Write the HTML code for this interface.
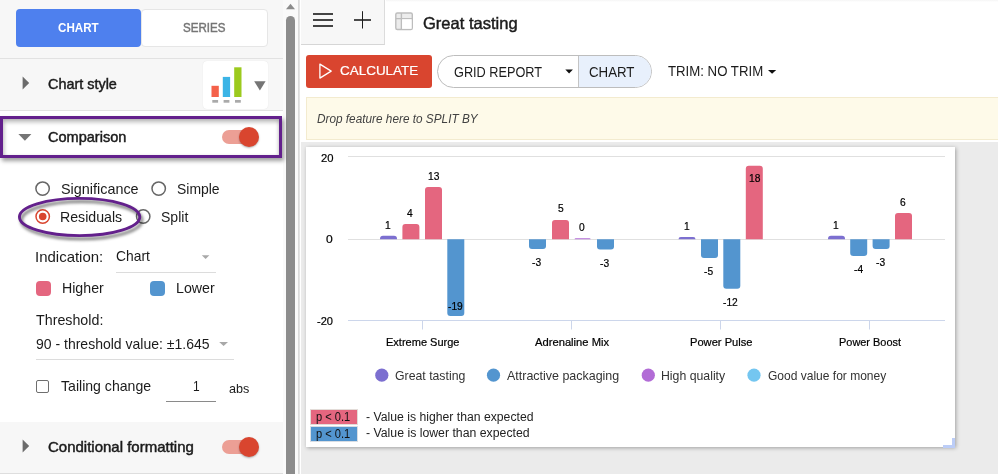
<!DOCTYPE html>
<html lang="en"><head><meta charset="utf-8"><title>Great tasting</title>
<style>
html,body{margin:0;padding:0;}
body{width:998px;height:474px;overflow:hidden;position:relative;background:#ffffff;font-family:"Liberation Sans",Arial,sans-serif;}
.a{position:absolute;box-sizing:border-box;}
.t{position:absolute;transform-origin:0 0;white-space:pre;line-height:20px;height:20px;font-family:"Liberation Sans",Arial,sans-serif;}
svg{position:absolute;left:0;top:0;overflow:visible;}

</style></head>
<body>
<!-- ===== left panel ===== -->
<div class="a" style="left:0;top:0;width:283px;height:474px;background:#ffffff;"></div>
<div class="a" style="left:0;top:0;width:283px;height:110px;background:#f7f7f7;"></div>
<div class="a" style="left:0;top:58px;width:283px;height:1px;background:#e2e2e2;"></div>
<div class="a" style="left:0;top:110px;width:283px;height:1px;background:#e2e2e2;"></div>
<div class="a" style="left:0;top:422px;width:283px;height:52px;background:#f7f7f7;"></div>
<div class="a" style="left:0;top:473px;width:283px;height:1px;background:#dedede;"></div>
<!-- tab buttons -->
<div class="a" style="left:141px;top:9px;width:127px;height:38px;background:#fff;border:1px solid #e6e6e6;border-radius:4px;"></div>
<div class="a" style="left:16px;top:9px;width:125px;height:38px;background:#4e80ee;border-radius:4px;"></div>
<!-- chart style widget -->
<div class="a" style="left:203px;top:61px;width:65px;height:48px;background:#fff;border-radius:4px;box-shadow:0 0 1px rgba(0,0,0,.12);"></div>
<!-- scrollbar -->
<div class="a" style="left:283px;top:0;width:15px;height:474px;background:#fafafa;"></div>
<div class="a" style="left:286px;top:16px;width:9px;height:480px;background:#8c8c8c;border-radius:4.5px;"></div>
<div class="a" style="left:298px;top:0;width:2px;height:474px;background:linear-gradient(90deg,#d6d6d6,#e8e8e8);"></div>
<!-- ===== main ===== -->
<div class="a" style="left:386px;top:0;width:612px;height:2px;background:linear-gradient(#f5f5f5,#ffffff);"></div>
<div class="a" style="left:301px;top:0;width:84px;height:45px;background:#f7f7f7;border-right:1px solid #dcdcdc;border-bottom:1px solid #d6d6d6;"></div>
<div class="a" style="left:306px;top:55px;width:126px;height:33px;background:#d9452f;border-radius:3px;"></div>
<div class="a" style="left:437px;top:55px;width:215px;height:33px;background:#fff;border:1px solid #bdbdbd;border-radius:16.5px;overflow:hidden;">
  <div class="a" style="left:140px;top:0;width:80px;height:33px;background:#e8f0fc;border-left:1px solid #c4c4c4;"></div>
</div>
<div class="a" style="left:306px;top:97px;width:700px;height:43px;background:#fefae9;border:1px solid #f3ebcf;"></div>
<!-- gray workspace -->
<div class="a" style="left:301px;top:142px;width:697px;height:332px;background:#ebebeb;"></div>
<div class="a" style="left:306px;top:147px;width:649px;height:300px;background:#fff;box-shadow:1px 1px 4px rgba(0,0,0,.32);"></div>
<!-- footer p boxes -->
<div class="a" style="left:310px;top:409px;width:48px;height:16px;background:#e4667f;border:1px solid #e3dcd8;"></div>
<div class="a" style="left:310px;top:426px;width:48px;height:15.5px;background:#5395cf;border:1px solid #d8dde3;"></div>
<!-- resize handle -->
<div class="a" style="left:943px;top:445px;width:12px;height:2.5px;background:#bccdf7;"></div>
<div class="a" style="left:952px;top:438px;width:3px;height:9.5px;background:#bccdf7;"></div>
<!-- colour squares -->
<div class="a" style="left:36px;top:281px;width:15px;height:15px;background:#e4667f;border-radius:4px;"></div>
<div class="a" style="left:150px;top:281px;width:15px;height:15px;background:#5395cf;border-radius:4px;"></div>
<!-- select underlines -->
<div class="a" style="left:116px;top:272px;width:100px;height:1px;background:#dcdcdc;"></div>
<div class="a" style="left:36px;top:359px;width:198px;height:1px;background:#dcdcdc;"></div>
<div class="a" style="left:166px;top:400.5px;width:50px;height:1px;background:#8a8a8a;"></div>
<!-- checkbox -->
<div class="a" style="left:36.3px;top:380.4px;width:13px;height:13px;border:1.5px solid #6e6e6e;border-radius:2px;background:#fff;"></div>
<!-- toggles -->
<div class="a" style="left:222px;top:130px;width:34px;height:14px;border-radius:7px;background:#ec9f95;"></div>
<div class="a" style="left:239px;top:127px;width:20px;height:20px;border-radius:10px;background:#d9452f;box-shadow:0 1px 2px rgba(0,0,0,.3);"></div>
<div class="a" style="left:222px;top:440px;width:34px;height:14px;border-radius:7px;background:#ec9f95;"></div>
<div class="a" style="left:239px;top:437px;width:20px;height:20px;border-radius:10px;background:#d9452f;box-shadow:0 1px 2px rgba(0,0,0,.3);"></div>
<!-- purple highlight rect -->
<div class="a" style="left:0;top:116px;width:282px;height:41.5px;border:3px solid #63208c;box-shadow:2px 3px 4px rgba(0,0,0,.38), inset 1px 3px 4px rgba(0,0,0,.28), inset -2px 0 3px rgba(0,0,0,.07);"></div>
<svg width="998" height="474" viewBox="0 0 998 474">
<path d="M348,156.5H945" stroke="#e0e0e0" stroke-width="1" fill="none"/>
<path d="M348,239.5H945" stroke="#e0e0e0" stroke-width="1" fill="none"/>
<path d="M348,320.5H945" stroke="#ccd6eb" stroke-width="1" fill="none"/>
<path d="M422.5,320.5V329.5" stroke="#ccd6eb" stroke-width="1" fill="none"/>
<path d="M571.5,320.5V329.5" stroke="#ccd6eb" stroke-width="1" fill="none"/>
<path d="M720.5,320.5V329.5" stroke="#ccd6eb" stroke-width="1" fill="none"/>
<path d="M869.5,320.5V329.5" stroke="#ccd6eb" stroke-width="1" fill="none"/>
<path d="M380.0,239.3V238.8Q380.0,235.8 383.0,235.8H394.0Q397.0,235.8 397.0,238.8V239.3Z" fill="#7c6fd0"/>
<path d="M402.4,239.3V227.0Q402.4,224.0 405.4,224.0H416.4Q419.4,224.0 419.4,227.0V239.3Z" fill="#e4667f"/>
<path d="M425.0,239.3V190.1Q425.0,187.1 428.0,187.1H439.0Q442.0,187.1 442.0,190.1V239.3Z" fill="#e4667f"/>
<path d="M447.3,239.3V313.0Q447.3,316.0 450.3,316.0H461.3Q464.3,316.0 464.3,313.0V239.3Z" fill="#5395cf"/>
<path d="M529.0,239.3V245.9Q529.0,248.9 532.0,248.9H543.0Q546.0,248.9 546.0,245.9V239.3Z" fill="#5395cf"/>
<path d="M552.0,239.3V222.9Q552.0,219.9 555.0,219.9H566.0Q569.0,219.9 569.0,222.9V239.3Z" fill="#e4667f"/>
<path d="M574.6,239.3V239.3Q574.6,238.2 575.7,238.2H589.5Q590.6,238.2 590.6,239.3V239.3Z" fill="#b26cd6"/>
<path d="M597.0,239.3V246.6Q597.0,249.6 600.0,249.6H611.0Q614.0,249.6 614.0,246.6V239.3Z" fill="#5395cf"/>
<path d="M678.5,239.3V239.3Q678.5,237.0 680.8,237.0H693.2Q695.5,237.0 695.5,239.3V239.3Z" fill="#7c6fd0"/>
<path d="M701.0,239.3V254.89999999999998Q701.0,257.9 704.0,257.9H715.0Q718.0,257.9 718.0,254.89999999999998V239.3Z" fill="#5395cf"/>
<path d="M723.3,239.3V285.7Q723.3,288.7 726.3,288.7H737.3Q740.3,288.7 740.3,285.7V239.3Z" fill="#5395cf"/>
<path d="M745.8,239.3V168.8Q745.8,165.8 748.8,165.8H759.8Q762.8,165.8 762.8,168.8V239.3Z" fill="#e4667f"/>
<path d="M828.0,239.3V238.7Q828.0,235.7 831.0,235.7H842.0Q845.0,235.7 845.0,238.7V239.3Z" fill="#7c6fd0"/>
<path d="M850.2,239.3V252.9Q850.2,255.9 853.2,255.9H864.2Q867.2,255.9 867.2,252.9V239.3Z" fill="#5395cf"/>
<path d="M872.6,239.3V245.9Q872.6,248.9 875.6,248.9H886.6Q889.6,248.9 889.6,245.9V239.3Z" fill="#5395cf"/>
<path d="M895.0,239.3V215.9Q895.0,212.9 898.0,212.9H909.0Q912.0,212.9 912.0,215.9V239.3Z" fill="#e4667f"/>
<circle cx="381.8" cy="375.2" r="6.6" fill="#7c6fd0"/>
<circle cx="493.5" cy="375.2" r="6.6" fill="#5395cf"/>
<circle cx="648.3" cy="375.2" r="6.6" fill="#b26cd6"/>
<circle cx="754.0" cy="375.2" r="6.6" fill="#74c6f0"/>
<rect x="313" y="13" width="20" height="2" fill="#444"/>
<rect x="313" y="19" width="20" height="2" fill="#444"/>
<rect x="313" y="25" width="20" height="2" fill="#444"/>
<rect x="354" y="19" width="17" height="2" fill="#4a4a4a"/>
<rect x="362" y="11.2" width="1" height="17.3" fill="#1e1e1e"/>
<rect x="395.8" y="13" width="16.5" height="16.5" rx="1.5" fill="#ececec" stroke="#bdbdbd" stroke-width="1.4"/>
<path d="M395.8,18.6H412.3M401.4,13V29.5" stroke="#bdbdbd" stroke-width="1.4" fill="none"/>
<rect x="402.1" y="19.3" width="9.5" height="9.5" fill="#fff"/>
<path d="M319.9,64.1V78.1L331.2,71.1Z" stroke="#fff" stroke-width="1.3" fill="none" stroke-linejoin="round"/>
<path d="M565.3,69.6H572.9L569.1,73.4Z" fill="#111"/>
<path d="M768,70H776.2L772.1,73.8Z" fill="#111"/>
<path d="M201.8,255.2H209.4L205.6,259Z" fill="#a8a8a8"/>
<path d="M219.2,342H228L223.6,346Z" fill="#a8a8a8"/>
<path d="M286,9.2H295L290.5,3.8Z" fill="#8c8c8c"/>
<path d="M22.6,76.6V89.6L29.2,83.1Z" fill="#6b6b6b"/>
<path d="M18.4,134H31.4L24.9,140.7Z" fill="#757575"/>
<path d="M22.6,439.5V452.5L29.2,446Z" fill="#6b6b6b"/>
<rect x="211.5" y="85.8" width="7.3" height="11.2" fill="#f4614a"/>
<rect x="222.8" y="76.9" width="7.3" height="20.1" fill="#3bb4e6"/>
<rect x="234.2" y="67.3" width="7.3" height="29.7" fill="#9cca1e"/>
<rect x="212.3" y="100" width="5.8" height="2.7" fill="#aaaaaa"/>
<rect x="223.6" y="100" width="5.8" height="2.7" fill="#aaaaaa"/>
<rect x="235.0" y="100" width="5.8" height="2.7" fill="#aaaaaa"/>
<path d="M254.2,81.3H265.6L259.9,90.4Z" fill="#757575"/>
<circle cx="42.6" cy="188.6" r="6.7" fill="#fff" stroke="#666" stroke-width="1.5"/>
<circle cx="158.7" cy="188.6" r="6.7" fill="#fff" stroke="#666" stroke-width="1.5"/>
<circle cx="143.2" cy="216.5" r="6.7" fill="#fff" stroke="#666" stroke-width="1.5"/>
<circle cx="42.7" cy="216.5" r="6.7" fill="#fff" stroke="#d9452f" stroke-width="1.5"/>
<circle cx="42.7" cy="216.5" r="3.8" fill="#d9452f"/>
<defs><filter id="sh" x="-20%" y="-30%" width="140%" height="170%"><feGaussianBlur stdDeviation="1.8"/></filter></defs>
<ellipse cx="81.6" cy="220.2" rx="60.2" ry="18.6" fill="none" stroke="rgba(0,0,0,.5)" stroke-width="3" filter="url(#sh)"/>
<ellipse cx="79.6" cy="217" rx="60.15" ry="18.6" fill="none" stroke="#63208c" stroke-width="2.9"/>
</svg>

<span class="t" style="left:58.00px;top:18.00px;font-size:13px;color:#ffffff;transform:scaleX(0.8935);font-weight:700;">CHART</span>
<span class="t" style="left:182.90px;top:18.00px;font-size:13px;color:#757575;transform:scaleX(0.8893);-webkit-text-stroke:0.45px currentColor;">SERIES</span>
<span class="t" style="left:48.30px;top:74.00px;font-size:14.2px;color:#1b1b1b;transform:scaleX(1.0160);-webkit-text-stroke:0.45px currentColor;">Chart style</span>
<span class="t" style="left:48.10px;top:127.00px;font-size:14.2px;color:#1b1b1b;transform:scaleX(1.0239);-webkit-text-stroke:0.45px currentColor;">Comparison</span>
<span class="t" style="left:60.50px;top:179.00px;font-size:14.2px;color:#1b1b1b;transform:scaleX(1.0142);">Significance</span>
<span class="t" style="left:177.30px;top:179.00px;font-size:14.2px;color:#1b1b1b;transform:scaleX(0.9822);">Simple</span>
<span class="t" style="left:59.50px;top:207.00px;font-size:14.2px;color:#1b1b1b;transform:scaleX(0.9983);">Residuals</span>
<span class="t" style="left:161.20px;top:207.00px;font-size:14.2px;color:#1b1b1b;transform:scaleX(0.9907);">Split</span>
<span class="t" style="left:35.04px;top:247.00px;font-size:14.2px;color:#1b1b1b;transform:scaleX(1.0553);">Indication:</span>
<span class="t" style="left:116.30px;top:246.00px;font-size:14.2px;color:#1b1b1b;transform:scaleX(0.9755);">Chart</span>
<span class="t" style="left:61.60px;top:278.00px;font-size:14.2px;color:#1b1b1b;transform:scaleX(0.9983);">Higher</span>
<span class="t" style="left:175.70px;top:278.00px;font-size:14.2px;color:#1b1b1b;transform:scaleX(1.0022);">Lower</span>
<span class="t" style="left:36.30px;top:310.00px;font-size:14.2px;color:#1b1b1b;transform:scaleX(1.0047);">Threshold:</span>
<span class="t" style="left:36.30px;top:334.00px;font-size:14.2px;color:#1b1b1b;transform:scaleX(0.9870);">90 - threshold value: ±1.645</span>
<span class="t" style="left:61.30px;top:376.00px;font-size:14.2px;color:#1b1b1b;transform:scaleX(0.9932);">Tailing change</span>
<span class="t" style="left:193.16px;top:376.00px;font-size:14.2px;color:#1b1b1b;transform:scaleX(0.8429);">1</span>
<span class="t" style="left:229.20px;top:379.00px;font-size:12.6px;color:#1b1b1b;transform:scaleX(0.9996);">abs</span>
<span class="t" style="left:48.10px;top:437.00px;font-size:14.2px;color:#1b1b1b;transform:scaleX(1.0567);-webkit-text-stroke:0.45px currentColor;">Conditional formatting</span>
<span class="t" style="left:423.30px;top:13.00px;font-size:16.5px;color:#1b1b1b;transform:scaleX(1.0012);-webkit-text-stroke:0.45px currentColor;">Great tasting</span>
<span class="t" style="left:340.30px;top:61.00px;font-size:13.3px;color:#ffffff;transform:scaleX(1.0120);-webkit-text-stroke:0.22px currentColor;">CALCULATE</span>
<span class="t" style="left:453.80px;top:62.00px;font-size:14.5px;color:#1b1b1b;transform:scaleX(0.8769);">GRID REPORT</span>
<span class="t" style="left:589.30px;top:62.00px;font-size:14.5px;color:#1b1b1b;transform:scaleX(0.9152);">CHART</span>
<span class="t" style="left:667.60px;top:61.00px;font-size:14.5px;color:#1b1b1b;transform:scaleX(0.9109);">TRIM: NO TRIM</span>
<span class="t" style="left:316.80px;top:109.00px;font-size:12.5px;color:#424242;transform:scaleX(0.9436);font-style:italic;">Drop feature here to SPLIT BY</span>
<span class="t" style="left:320.50px;top:148.00px;font-size:11.5px;color:#000000;transform:scaleX(0.9761);-webkit-text-stroke:0.22px currentColor;">20</span>
<span class="t" style="left:326.30px;top:229.00px;font-size:11.5px;color:#000000;transform:scaleX(1.0500);-webkit-text-stroke:0.22px currentColor;">0</span>
<span class="t" style="left:317.20px;top:311.00px;font-size:11.5px;color:#000000;transform:scaleX(0.9615);-webkit-text-stroke:0.22px currentColor;">-20</span>
<span class="t" style="left:386.30px;top:332.00px;font-size:11.5px;color:#000000;transform:scaleX(0.9580);-webkit-text-stroke:0.22px currentColor;">Extreme Surge</span>
<span class="t" style="left:534.60px;top:332.00px;font-size:11.5px;color:#000000;transform:scaleX(0.9736);-webkit-text-stroke:0.22px currentColor;">Adrenaline Mix</span>
<span class="t" style="left:690.00px;top:332.00px;font-size:11.5px;color:#000000;transform:scaleX(0.9679);-webkit-text-stroke:0.22px currentColor;">Power Pulse</span>
<span class="t" style="left:838.80px;top:332.00px;font-size:11.5px;color:#000000;transform:scaleX(0.9515);-webkit-text-stroke:0.22px currentColor;">Power Boost</span>
<span class="t" style="left:395.10px;top:366.00px;font-size:13px;color:#333333;transform:scaleX(0.9448);">Great tasting</span>
<span class="t" style="left:506.70px;top:366.00px;font-size:13px;color:#333333;transform:scaleX(0.9586);">Attractive packaging</span>
<span class="t" style="left:661.16px;top:366.00px;font-size:13px;color:#333333;transform:scaleX(0.9447);">High quality</span>
<span class="t" style="left:767.90px;top:366.00px;font-size:13px;color:#333333;transform:scaleX(0.9244);">Good value for money</span>
<span class="t" style="left:315.90px;top:407.00px;font-size:12px;color:#111111;transform:scaleX(0.9262);">p &lt; 0.1</span>
<span class="t" style="left:315.90px;top:424.00px;font-size:12px;color:#111111;transform:scaleX(0.9262);">p &lt; 0.1</span>
<span class="t" style="left:366.40px;top:407.00px;font-size:12px;color:#222222;transform:scaleX(1.0178);">- Value is higher than expected</span>
<span class="t" style="left:366.40px;top:423.00px;font-size:12px;color:#222222;transform:scaleX(1.0233);">- Value is lower than expected</span>
<span class="t" style="left:384.91px;top:215.00px;font-size:11px;color:#000000;transform:scaleX(0.9300);-webkit-text-stroke:0.22px currentColor;">1</span>
<span class="t" style="left:407.41px;top:203.00px;font-size:11px;color:#000000;transform:scaleX(0.9300);-webkit-text-stroke:0.22px currentColor;">4</span>
<span class="t" style="left:427.77px;top:166.00px;font-size:11px;color:#000000;transform:scaleX(0.9300);-webkit-text-stroke:0.22px currentColor;">13</span>
<span class="t" style="left:447.66px;top:296.00px;font-size:11px;color:#000000;transform:scaleX(0.9300);-webkit-text-stroke:0.22px currentColor;">-19</span>
<span class="t" style="left:532.31px;top:252.00px;font-size:11px;color:#000000;transform:scaleX(0.9300);-webkit-text-stroke:0.22px currentColor;">-3</span>
<span class="t" style="left:557.51px;top:198.00px;font-size:11px;color:#000000;transform:scaleX(0.9300);-webkit-text-stroke:0.22px currentColor;">5</span>
<span class="t" style="left:579.21px;top:217.00px;font-size:11px;color:#000000;transform:scaleX(0.9300);-webkit-text-stroke:0.22px currentColor;">0</span>
<span class="t" style="left:600.11px;top:253.00px;font-size:11px;color:#000000;transform:scaleX(0.9300);-webkit-text-stroke:0.22px currentColor;">-3</span>
<span class="t" style="left:683.91px;top:216.00px;font-size:11px;color:#000000;transform:scaleX(0.9300);-webkit-text-stroke:0.22px currentColor;">1</span>
<span class="t" style="left:704.01px;top:261.00px;font-size:11px;color:#000000;transform:scaleX(0.9300);-webkit-text-stroke:0.22px currentColor;">-5</span>
<span class="t" style="left:723.36px;top:292.00px;font-size:11px;color:#000000;transform:scaleX(0.9300);-webkit-text-stroke:0.22px currentColor;">-12</span>
<span class="t" style="left:748.77px;top:168.00px;font-size:11px;color:#000000;transform:scaleX(0.9300);-webkit-text-stroke:0.22px currentColor;">18</span>
<span class="t" style="left:833.41px;top:215.00px;font-size:11px;color:#000000;transform:scaleX(0.9300);-webkit-text-stroke:0.22px currentColor;">1</span>
<span class="t" style="left:853.51px;top:259.00px;font-size:11px;color:#000000;transform:scaleX(0.9300);-webkit-text-stroke:0.22px currentColor;">-4</span>
<span class="t" style="left:876.21px;top:252.00px;font-size:11px;color:#000000;transform:scaleX(0.9300);-webkit-text-stroke:0.22px currentColor;">-3</span>
<span class="t" style="left:900.01px;top:192.00px;font-size:11px;color:#000000;transform:scaleX(0.9300);-webkit-text-stroke:0.22px currentColor;">6</span>
</body></html>
